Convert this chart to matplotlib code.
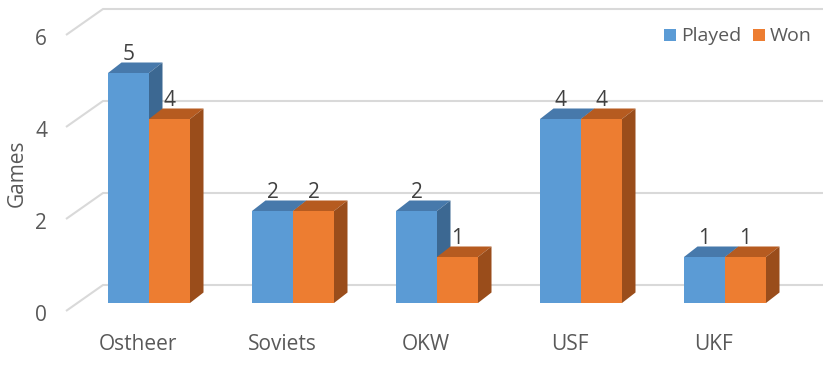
import numpy as np
import matplotlib
matplotlib.use("Agg")
from matplotlib import pyplot as plt
from matplotlib.patches import Polygon

## Data
categories = ["Ostheer", "Soviets", "OKW", "USF", "UKF"]
played = [5, 2, 2, 4, 1]
won = [4, 2, 1, 4, 1]
yticks = [0, 2, 4, 6]

## Pixel geometry of the pseudo-3D Excel look
W, H = 827, 366
x0_px, step_px = 149, 144      # first category centre, spacing
y0_px, unit_px = 303, 46       # bar-front zero line, px per game
bar_px = 41
bdx, bdy = 13.5, -10.5         # bar depth offset (px)
wdx, wdy = 24, -18             # back wall offset from bar front plane (px)
fdx, fdy = -11, 8              # front (label) plane offset (px)

plt.rcParams["font.family"] = ["Open Sans", "DejaVu Sans"]

fig = plt.figure(figsize=(W / 100, H / 100), dpi=100)
ax = fig.add_axes([0, 0, 1, 1])
ax.set_xlim(-x0_px / step_px, (W - x0_px) / step_px)
ax.set_ylim((y0_px - H) / unit_px, y0_px / unit_px)
ax.axis("off")

px = lambda d: d / step_px
py = lambda d: -d / unit_px

text_col = "#595959"
grid_col = "#D9D9D9"
fs = 15

## Back wall gridlines with left wall diagonals
x_left = px(66 - x0_px)
x_wall = x_left + px(37)
x_right = px(823 - x0_px)
for v in yticks:
    yb = v + py(wdy)
    yf = v + py(fdy)
    ax.plot([x_left, x_wall, x_right], [yf, yb, yb], color=grid_col, lw=1.5,
            solid_capstyle="butt", zorder=1)
    ax.text(px(41 - x0_px), v + py(fdy + 4.5), str(v), ha="center", va="center",
            fontsize=fs, color=text_col)

## Bars
w = px(bar_px)
ddx, ddy = px(bdx), py(bdy)
series = [
    (played, -w, "#5B9BD5", "#4779AB", "#3C6892"),
    (won, 0, "#ED7D31", "#B65B20", "#9A4D1B"),
]
x = np.arange(len(categories))
for i in x:
    for vals, off, front, top, side in series:
        v = vals[i]
        xl = i + off
        xr = xl + w
        ax.add_patch(Polygon([(xl, 0), (xr, 0), (xr, v), (xl, v)],
                             closed=True, fc=front, ec="none", zorder=3))
        ax.add_patch(Polygon([(xl, v), (xr, v), (xr + ddx, v + ddy), (xl + ddx, v + ddy)],
                             closed=True, fc=top, ec="none", zorder=3))
        ax.add_patch(Polygon([(xr, 0), (xr + ddx, ddy), (xr + ddx, v + ddy), (xr, v)],
                             closed=True, fc=side, ec="none", zorder=3))
        ax.text(xl + w / 2, v + ddy + py(-7.5), str(v), ha="center", va="center",
                fontsize=fs, color="#404040", zorder=4)
    ax.text(i + px(fdx), py(345 - y0_px), categories[i], ha="center", va="center",
            fontsize=fs, color=text_col)

## Axis title
ax.text(px(17 - x0_px), py(173 - y0_px), "Games", rotation=90, ha="center",
        va="center", fontsize=fs, color=text_col)

## Legend
leg = [("Played", "#5B9BD5", 664), ("Won", "#ED7D31", 753)]
for name, col, lx in leg:
    ax.add_patch(Polygon([(px(lx - x0_px), py(29 - y0_px)), (px(lx + 12 - x0_px), py(29 - y0_px)),
                          (px(lx + 12 - x0_px), py(41 - y0_px)), (px(lx - x0_px), py(41 - y0_px))],
                         closed=True, fc=col, ec="none"))
    ax.text(px(lx + 17 - x0_px), py(36 - y0_px), name, ha="left", va="center",
            fontsize=14, color=text_col)

fig.savefig("out.png", dpi=100)
